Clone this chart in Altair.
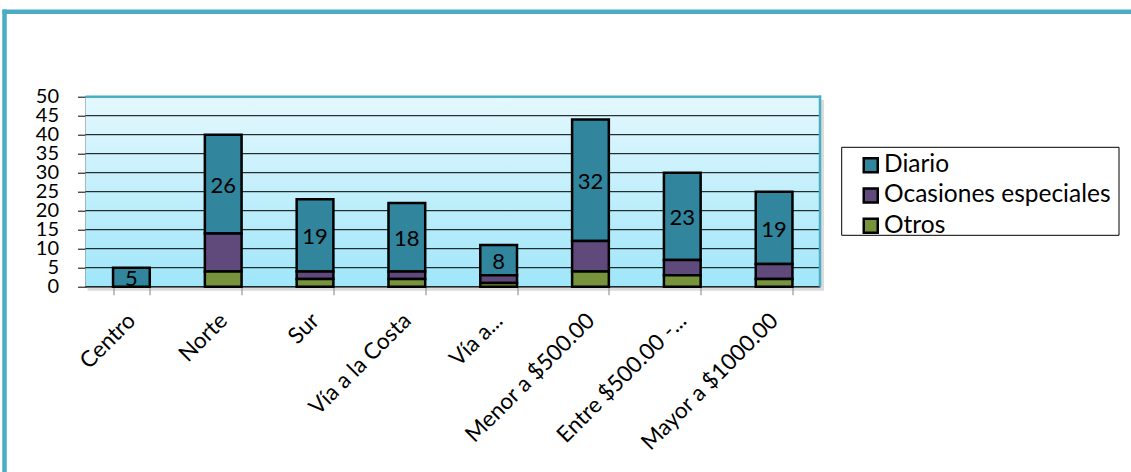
import altair as alt
import pandas as pd

categories = ["Centro", "Norte", "Sur", "Vía a la Costa", "Vía a...",
              "Menor a $500.00", "Entre $500.00 -...", "Mayor a $1000.00"]
diario = [5, 26, 19, 18, 8, 32, 23, 19]
ocasiones = [0, 10, 2, 2, 2, 8, 4, 4]
otros = [0, 4, 2, 2, 1, 4, 3, 2]
series = ["Diario", "Ocasiones especiales", "Otros"]
colors = ["#31859C", "#604A7B", "#77933C"]
y_ticks = [0, 5, 10, 15, 20, 25, 30, 35, 40, 45, 50]

W = 734.5
H = 190
PAD_L = 85.5
PAD_T = 96.7
FONT = "Lato"
FRAME = "#4BACC6"

rows = []
for i, c in enumerate(categories):
    for s, vals, order in zip(series, [diario, ocasiones, otros], [3, 2, 1]):
        if vals[i] > 0:
            rows.append({"cat": c, "serie": s, "valor": vals[i], "orden": order})
df = pd.DataFrame(rows)

lab = pd.DataFrame({
    "cat": categories,
    "txt": diario,
    "base": [a + b for a, b in zip(ocasiones, otros)],
    "top": [a + b + d for a, b, d in zip(ocasiones, otros, diario)],
})

yscale = alt.Scale(domain=[0, 50], nice=False)
xscale = alt.Scale(paddingInner=0.6, paddingOuter=0.3)
xaxis = alt.Axis(labelAngle=-45, labelAlign="right", labelBaseline="middle",
                 labelFont=FONT, labelFontSize=22.5, labelColor="black",
                 labelPadding=22, tickBand="extent", tickSize=8,
                 tickColor="#808080", domainColor="#808080",
                 domainWidth=1.5, labelLimit=400, labelOverlap=False, title=None)
yaxis = alt.Axis(values=y_ticks, grid=False, tickSize=8, tickColor="black",
                 domainColor="black", labelFont=FONT, labelFontSize=20,
                 labelColor="black", labelPadding=19, labelOverlap=False,
                 labelBound=False, title=None)
one = pd.DataFrame({"a": [0]})

shadow = alt.Chart(one).mark_rect(color="#9a9a9a", opacity=0.35).encode(
    x=alt.value(2), x2=alt.value(W + 4), y=alt.value(3), y2=alt.value(H + 4))

bg = alt.Chart(one).mark_rect(
    color=alt.LinearGradient(
        gradient="linear",
        stops=[alt.GradientStop(color="#E4F8FE", offset=0),
               alt.GradientStop(color="#A0E6FA", offset=1)],
        x1=0, x2=0, y1=0, y2=1)
).encode(x=alt.value(0), x2=alt.value(W), y=alt.value(0), y2=alt.value(H))

grid = alt.Chart(pd.DataFrame({"valor": y_ticks})).mark_rule(
    color="black", strokeWidth=1).encode(
    y=alt.Y("valor:Q", scale=yscale, axis=yaxis))

bars = alt.Chart(df).mark_bar(stroke="black", strokeWidth=2.5).encode(
    x=alt.X("cat:N", sort=categories, scale=xscale, axis=xaxis),
    y=alt.Y("valor:Q", stack="zero", scale=yscale, axis=yaxis),
    color=alt.Color("serie:N", scale=alt.Scale(domain=series, range=colors),
                    legend=alt.Legend(title=None, orient="none",
                                      legendX=858.5 - PAD_L, legendY=153 - PAD_T)),
    order=alt.Order("orden:Q"),
)

texts = alt.Chart(lab).transform_calculate(
    mid="(datum.base + datum.top) / 2").mark_text(
    font=FONT, fontSize=22, color="black", baseline="middle", dy=2).encode(
    x=alt.X("cat:N", sort=categories, scale=xscale, axis=xaxis),
    y=alt.Y("mid:Q", scale=yscale, axis=yaxis),
    text=alt.Text("txt:Q"))

legend_box = alt.Chart(one).mark_rect(fill="white", stroke="black", strokeWidth=1).encode(
    x=alt.value(841.7 - PAD_L), x2=alt.value(1119 - PAD_L),
    y=alt.value(147.3 - PAD_T), y2=alt.value(235.3 - PAD_T))

top_border = alt.Chart(one).mark_rule(color=FRAME, strokeWidth=2.5).encode(
    x=alt.value(0), x2=alt.value(W + 1.2), y=alt.value(0))
right_border = alt.Chart(one).mark_rule(color=FRAME, strokeWidth=2.5).encode(
    x=alt.value(W), y=alt.value(-1.2), y2=alt.value(H))

frame_top = alt.Chart(one).mark_rule(color=FRAME, strokeWidth=4.5).encode(
    x=alt.value(2.5 - PAD_L), x2=alt.value(1131 - PAD_L), y=alt.value(11.75 - PAD_T))
frame_left = alt.Chart(one).mark_rule(color=FRAME, strokeWidth=4.5).encode(
    x=alt.value(4.5 - PAD_L), y=alt.value(9.5 - PAD_T), y2=alt.value(472 - PAD_T))

chart = alt.layer(
    shadow, bg, grid, bars, texts, top_border, right_border, legend_box,
    frame_top, frame_left
).properties(
    width=W, height=H,
    autosize=alt.AutoSizeParams(type="none"),
    padding={"left": PAD_L, "top": PAD_T, "right": 1131 - PAD_L - W,
             "bottom": 472 - PAD_T - H},
    background="white",
).configure_view(stroke=None).configure_legend(
    padding=0, symbolType="square", symbolSize=196, symbolStrokeColor="black",
    symbolStrokeWidth=2.5, symbolOffset=0, labelOffset=1,
    labelFont=FONT, labelFontSize=24.5, labelColor="black", rowPadding=4.2,
    labelLimit=400,
)

chart.save("out.html", embed_options={"renderer": "svg", "actions": False})
